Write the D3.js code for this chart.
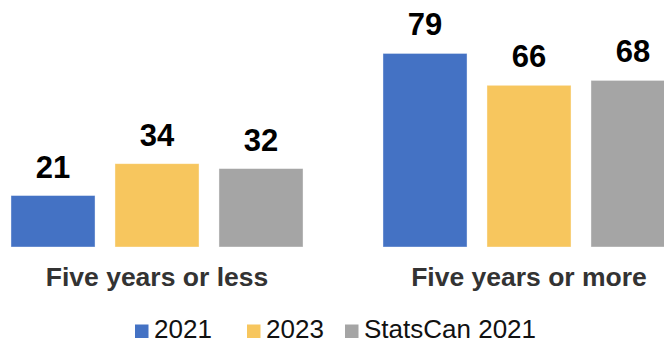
<!DOCTYPE html>
<html>
<head>
<meta charset="utf-8">
<script src="https://cdn.jsdelivr.net/npm/d3@7"></script>
<style>
  body { margin: 0; background: #fff; }
  svg { display: block; font-family: "Liberation Sans", Arial, sans-serif; }
  .value { font-weight: bold; fill: #000; }
  .cat { font-weight: bold; fill: #333; }
  .legend text { fill: #111; }
</style>
</head>
<body>
<svg width="664" height="343"></svg>
<script>
(function (d3) {
  'use strict';

  const categories = ['Five years or less', 'Five years or more'];
  const seriesNames = ['2021', '2023', 'StatsCan 2021'];
  const values2021 = [21, 79];
  const values2023 = [34, 66];
  const valuesStatsCan = [32, 68];
  const colors = ['#4472C4', '#F7C65E', '#A5A5A5'];

  const seriesValues = [values2021, values2023, valuesStatsCan];

  const svg = d3.select('svg');
  const baseline = 247;

  const x0 = d3.scaleBand()
    .domain(categories)
    .range([-29, 715])
    .paddingInner(0.215)
    .paddingOuter(0.1075);

  const x1 = d3.scaleBand()
    .domain(seriesNames)
    .range([0, x0.bandwidth()])
    .paddingInner(0.192);

  const y = d3.scaleLinear()
    .domain([0, 100])
    .range([baseline, 2]);

  const color = d3.scaleOrdinal().domain(seriesNames).range(colors);

  const rows = categories.map((c, i) => ({
    category: c,
    items: seriesNames.map((s, j) => ({ series: s, value: seriesValues[j][i] }))
  }));

  const groups = svg.selectAll('g.group').data(rows)
    .enter().append('g')
    .attr('class', 'group')
    .attr('transform', d => `translate(${x0(d.category)},0)`);

  groups.selectAll('rect').data(d => d.items)
    .enter().append('rect')
    .attr('x', d => x1(d.series))
    .attr('y', d => y(d.value))
    .attr('width', x1.bandwidth())
    .attr('height', d => baseline - y(d.value))
    .attr('fill', d => color(d.series))
    .attr('stroke', '#fff')
    .attr('stroke-opacity', 0.5)
    .attr('stroke-width', 0.75);

  groups.selectAll('text.value').data(d => d.items)
    .enter().append('text')
    .attr('class', 'value')
    .attr('x', d => x1(d.series) + x1.bandwidth() / 2)
    .attr('y', d => y(d.value) - 18)
    .attr('text-anchor', 'middle')
    .attr('font-size', 31)
    .text(d => d.value);

  groups.append('text')
    .attr('class', 'cat')
    .attr('x', x0.bandwidth() / 2)
    .attr('y', 286)
    .attr('text-anchor', 'middle')
    .attr('font-size', 26.5)
    .text(d => d.category);

  // legend
  const legendX = [135, 247, 345];
  const legend = svg.append('g').attr('class', 'legend');
  const items = legend.selectAll('g').data(seriesNames)
    .enter().append('g')
    .attr('transform', (d, i) => `translate(${legendX[i]},324.5)`);
  items.append('rect')
    .attr('width', 13.5)
    .attr('height', 13.5)
    .attr('fill', d => color(d));
  items.append('text')
    .attr('x', 19)
    .attr('y', 13)
    .attr('font-size', 26)
    .text(d => d);

}(d3));
</script>
</body>
</html>
